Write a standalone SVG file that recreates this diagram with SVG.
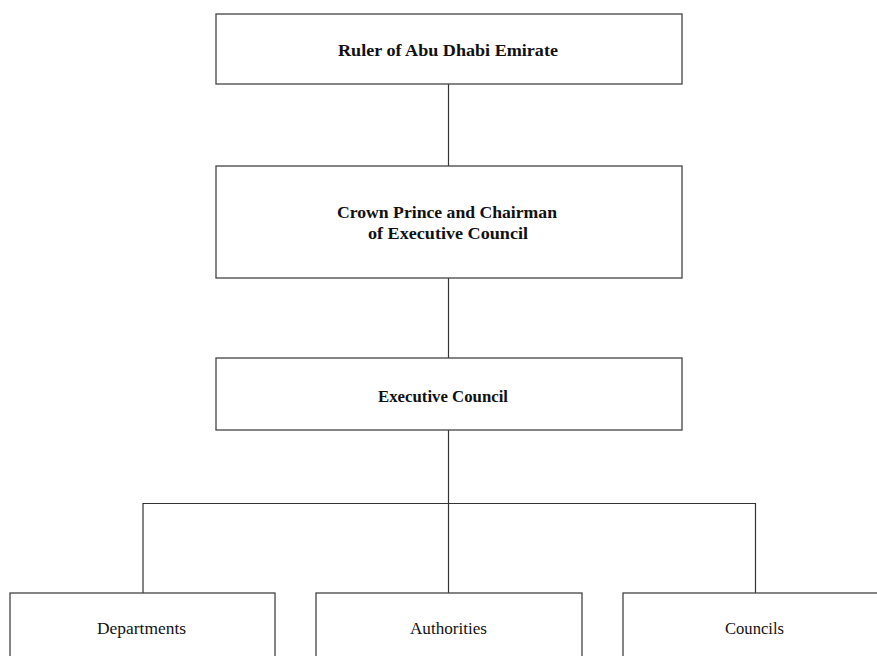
<svg xmlns="http://www.w3.org/2000/svg" width="877" height="656" viewBox="0 0 877 656">
<style>
.box{fill:#fff;stroke:#444;stroke-width:1.3}
.conn{fill:none;stroke:#333;stroke-width:1.2}
.b{font-family:"Liberation Serif","Times New Roman",serif;font-weight:bold;font-size:17px;fill:#111;text-anchor:middle}
.r{font-family:"Liberation Serif","Times New Roman",serif;font-size:17px;fill:#111;text-anchor:middle}
</style>
<rect width="877" height="656" fill="#fff"/>
<g id="connectors" class="conn">
<line x1="448.5" y1="84" x2="448.5" y2="166"/>
<line x1="448.5" y1="278" x2="448.5" y2="358"/>
<line x1="448.5" y1="430" x2="448.5" y2="593"/>
<polyline points="143,593 143,503.5 755.5,503.5 755.5,593"/>
</g>
<g id="ruler">
<rect class="box" x="216" y="14" width="466" height="70"/>
<text class="b" x="448" y="56" textLength="220" lengthAdjust="spacingAndGlyphs">Ruler of Abu Dhabi Emirate</text>
</g>
<g id="crown-prince">
<rect class="box" x="216" y="166" width="466" height="112"/>
<text class="b" x="447" y="218" textLength="220" lengthAdjust="spacingAndGlyphs">Crown Prince and Chairman</text>
<text class="b" x="448" y="239" textLength="160" lengthAdjust="spacingAndGlyphs">of Executive Council</text>
</g>
<g id="executive-council">
<rect class="box" x="216" y="358" width="466" height="72"/>
<text class="b" x="443" y="402" textLength="130" lengthAdjust="spacingAndGlyphs">Executive Council</text>
</g>
<g id="departments">
<rect class="box" x="10" y="593" width="265" height="80"/>
<text class="r" x="141.5" y="634" textLength="89" lengthAdjust="spacingAndGlyphs">Departments</text>
</g>
<g id="authorities">
<rect class="box" x="316" y="593" width="266" height="80"/>
<text class="r" x="448.5" y="634" textLength="77" lengthAdjust="spacingAndGlyphs">Authorities</text>
</g>
<g id="councils">
<rect class="box" x="623" y="593" width="280" height="80"/>
<text class="r" x="754.5" y="634" textLength="59" lengthAdjust="spacingAndGlyphs">Councils</text>
</g>
</svg>
